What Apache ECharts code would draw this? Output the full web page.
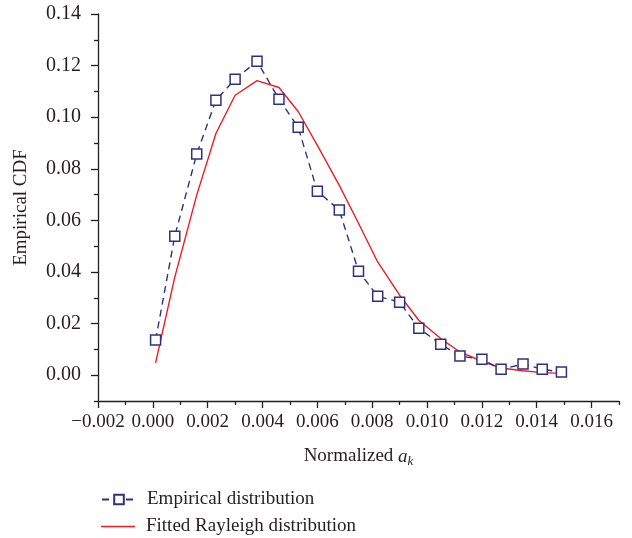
<!DOCTYPE html>
<html>
<head>
<meta charset="utf-8">
<script src="https://cdn.jsdelivr.net/npm/echarts@6/dist/echarts.min.js"></script>
<style>
  html, body { margin: 0; padding: 0; background: #fff; }
  #chart { width: 632px; height: 538px; }
</style>
</head>
<body>
<div id="chart"></div>
<script>
// x positions of the histogram bins (normalized a_k)
var binX = [0.0001, 0.0008, 0.0016, 0.0023, 0.0030, 0.0038, 0.0046, 0.0053, 0.0060, 0.0068, 0.0075,
  0.0082, 0.0090, 0.0097, 0.0105, 0.0112, 0.0120, 0.0127, 0.0135, 0.0142, 0.0149];
// empirical distribution (squares)
var empirical = [0.0136, 0.0539, 0.0857, 0.1066, 0.1147, 0.1217, 0.1070, 0.0961, 0.0713, 0.0640, 0.0403,
  0.0306, 0.0283, 0.0182, 0.0120, 0.0074, 0.0062, 0.0023, 0.0043, 0.0023, 0.0012];
// fitted rayleigh curve
var fitted = [0.0048, 0.0380, 0.0698, 0.0937, 0.1085, 0.1142, 0.1115, 0.1022, 0.0891, 0.0736, 0.0589,
  0.0439, 0.0310, 0.0213, 0.0142, 0.0090, 0.0054, 0.0028, 0.0017, 0.0010, 0.0007];

var yTicks = [0, 0.02, 0.04, 0.06, 0.08, 0.10, 0.12, 0.14];
var yMinor = [-0.01, 0.01, 0.03, 0.05, 0.07, 0.09, 0.11, 0.13];
var xTicks = [-0.002, 0, 0.002, 0.004, 0.006, 0.008, 0.010, 0.012, 0.014, 0.016];
var xMinor = [-0.001, 0.001, 0.003, 0.005, 0.007, 0.009, 0.011, 0.013, 0.015, 0.017];

var font = "'Liberation Serif', 'DejaVu Serif', serif";
var ink = "#231f20";
var navy = "#2e3180";
var red = "#ee1c25";

function pairs(xs, ys) {
  return xs.map(function (x, i) { return [x, ys[i]]; });
}
function fmt(v, d) {
  var s = Math.abs(v).toFixed(d);
  return v < -1e-9 ? "\u2212" + s : s;
}

var axisLine = { show: true, onZero: false, lineStyle: { color: ink, width: 1.3 } };
var legendText = { fontFamily: font, fontSize: 19, color: ink, padding: [0, 0, 0, 6] };

var chart = echarts.init(document.getElementById("chart"));
chart.setOption({
  backgroundColor: "#fff",
  animation: false,
  grid: { left: 98, right: 13, top: 14, bottom: 137 },
  legend: [
    {
      left: 96,
      top: 485,
      itemWidth: 34,
      itemHeight: 12,
      textStyle: legendText,
      data: ["Empirical distribution"]
    },
    {
      left: 96,
      top: 512,
      itemWidth: 34,
      itemHeight: 1.6,
      icon: "rect",
      textStyle: legendText,
      data: ["Fitted Rayleigh distribution"]
    }
  ],
  xAxis: [
    {
      type: "value",
      min: -0.002,
      max: 0.017,
      splitLine: { show: false },
      axisLine: axisLine,
      axisTick: { show: true, length: 7, customValues: xTicks, lineStyle: { color: ink, width: 1.3 } },
      axisLabel: {
        customValues: xTicks,
        margin: 12,
        fontFamily: font,
        fontSize: 19,
        color: ink,
        formatter: function (v) { return fmt(v, 3); }
      },
      name: "{n|Normalized }{a|a}{k|k}",
      nameLocation: "middle",
      nameGap: 44,
      nameTextStyle: {
        rich: {
          n: { fontFamily: font, fontSize: 19, color: ink },
          a: { fontFamily: font, fontSize: 19, fontStyle: "italic", color: ink },
          k: { fontFamily: font, fontSize: 13, fontStyle: "italic", color: ink, verticalAlign: "bottom", padding: [10, 0, 0, 0] }
        }
      }
    },
    {
      type: "value",
      min: -0.002,
      max: 0.017,
      position: "bottom",
      splitLine: { show: false },
      axisLine: { show: false, onZero: false },
      axisTick: { show: true, length: 4, customValues: xMinor, lineStyle: { color: ink, width: 1.3 } },
      axisLabel: { show: false }
    }
  ],
  yAxis: [
    {
      type: "value",
      min: -0.01,
      max: 0.14,
      splitLine: { show: false },
      axisLine: axisLine,
      axisTick: { show: true, length: 7, customValues: yTicks, lineStyle: { color: ink, width: 1.3 } },
      axisLabel: {
        customValues: yTicks,
        margin: 17,
        fontFamily: font,
        fontSize: 20,
        color: ink,
        formatter: function (v) { return fmt(v, 2); }
      },
      name: "Empirical CDF",
      nameLocation: "middle",
      nameGap: 67,
      nameTextStyle: { fontFamily: font, fontSize: 19, color: ink }
    },
    {
      type: "value",
      min: -0.01,
      max: 0.14,
      position: "left",
      splitLine: { show: false },
      axisLine: { show: false, onZero: false },
      axisTick: { show: true, length: 4, customValues: yMinor, lineStyle: { color: ink, width: 1.3 } },
      axisLabel: { show: false }
    }
  ],
  series: [
    {
      name: "Empirical distribution",
      type: "line",
      data: pairs(binX, empirical),
      symbol: "rect",
      symbolSize: 10,
      showAllSymbol: true,
      itemStyle: { color: "#fff", borderColor: navy, borderWidth: 1.5 },
      lineStyle: { color: navy, width: 1.4, type: [7, 5] },
      z: 3
    },
    {
      name: "Fitted Rayleigh distribution",
      type: "line",
      data: pairs(binX, fitted),
      symbol: "none",
      smooth: false,
      itemStyle: { color: red },
      lineStyle: { color: red, width: 1.4 },
      z: 2
    }
  ]
});
</script>
</body>
</html>
